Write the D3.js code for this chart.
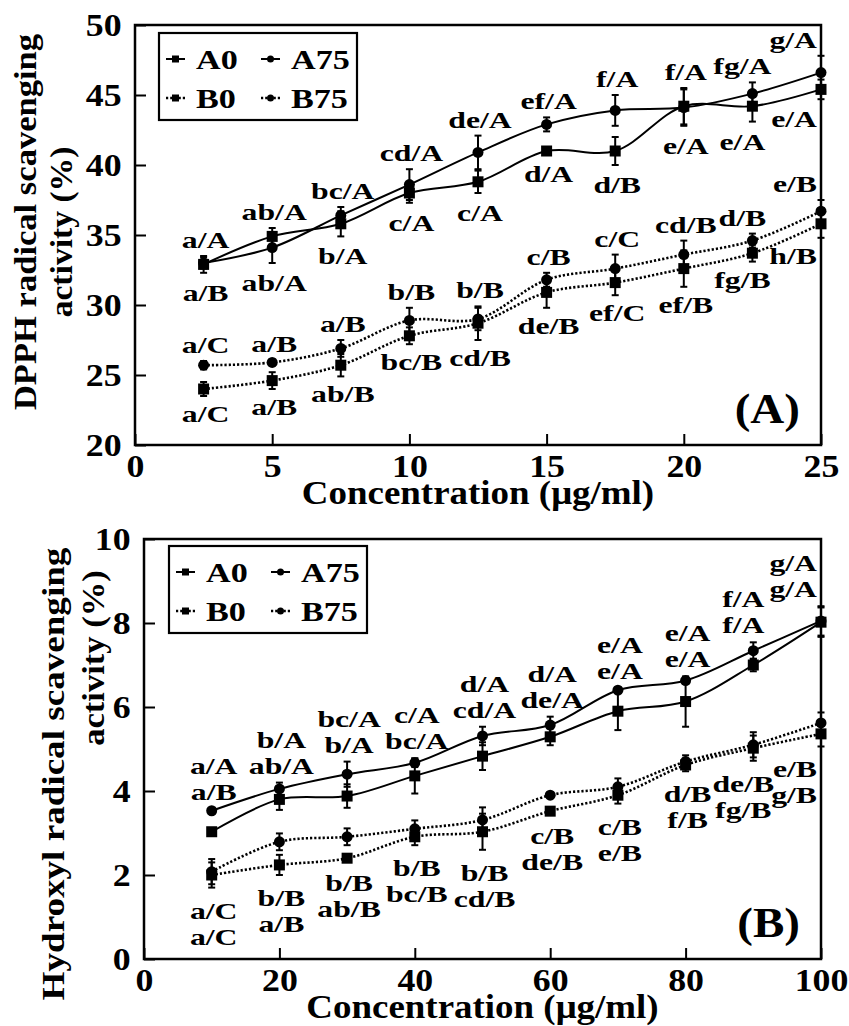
<!DOCTYPE html>
<meta charset="utf-8">
<style>
body { margin: 0; background: #fff; }
svg text { font-family: "Liberation Serif", "Times New Roman", serif; font-weight: bold; fill: #000; }
.frame { fill: none; stroke: #000; stroke-width: 2.5px; }
.axis path { display: none; }
.axis line { stroke: #000; stroke-width: 2px; }
.axis text { font-family: "Liberation Serif", serif; font-weight: bold; font-size: 32px; fill: #000; }
.line { fill: none; stroke: #000; stroke-width: 2px; }
.line.dot { stroke-dasharray: 2.2, 2; stroke-width: 2.6px; }
.err { stroke: #000; stroke-width: 2px; }
.legend .box { fill: #fff; stroke: #000; stroke-width: 2.2px; }
</style>
<body>
<script src="https://d3js.org/d3.v7.min.js"></script>
<script>
// ---- panel A : DPPH ----
var dpphConc = [2.5, 5, 7.5, 10, 12.5, 15, 17.5, 20, 22.5, 25];
var dpphA0 = [32.9, 34.9, 35.8, 38.0, 38.8, 41.0, 41.0, 44.2, 44.2, 45.4];
var dpphA0Err = [0.6, 0.6, 0.9, 0.7, 0.8, 0.2, 1.0, 1.3, 1.1, 0.7];
var dpphA75 = [33.0, 34.1, 36.4, 38.6, 40.9, 42.9, 43.9, 44.1, 45.1, 46.6];
var dpphA75Err = [0.4, 1.1, 0.6, 1.1, 1.2, 0.5, 1.1, 1.3, 0.8, 1.2];
var dpphB0 = [24.0, 24.6, 25.7, 27.8, 28.7, 30.9, 31.6, 32.6, 33.7, 35.8];
var dpphB0Err = [0.5, 0.6, 0.8, 0.6, 1.2, 1.1, 0.9, 1.3, 0.6, 1.0];
var dpphB75 = [25.7, 25.9, 26.9, 28.9, 29.0, 31.8, 32.6, 33.6, 34.6, 36.7];
var dpphB75Err = [0.3, 0.2, 0.6, 0.9, 0.8, 0.5, 1.0, 1.0, 0.5, 0.8];
var dpphLabA75 = ["a/A", "ab/A", "bc/A", "cd/A", "de/A", "ef/A", "f/A", "f/A", "fg/A", "g/A"];
var dpphLabA0 = ["a/B", "ab/A", "b/A", "c/A", "c/A", "d/A", "d/B", "e/A", "e/A", "e/A"];
var dpphLabB75 = ["a/C", "a/B", "a/B", "b/B", "b/B", "c/B", "c/C", "cd/B", "d/B", "e/B"];
var dpphLabB0 = ["a/C", "a/B", "ab/B", "bc/B", "cd/B", "de/B", "ef/C", "ef/B", "fg/B", "h/B"];
var dpphXTicks = [0, 5, 10, 15, 20, 25];
var dpphYTicks = [20, 25, 30, 35, 40, 45, 50];

// ---- panel B : hydroxyl ----
var hydConc = [10, 20, 30, 40, 50, 60, 70, 80, 90, 100];
var hydA0 = [3.03, 3.80, 3.88, 4.36, 4.83, 5.29, 5.90, 6.13, 7.00, 8.02];
var hydA0Err = [0.05, 0.25, 0.28, 0.42, 0.33, 0.20, 0.45, 0.60, 0.15, 0.35];
var hydA75 = [3.53, 4.05, 4.40, 4.67, 5.31, 5.57, 6.40, 6.63, 7.34, 8.05];
var hydA75Err = [0.05, 0.15, 0.30, 0.10, 0.22, 0.20, 0.05, 0.05, 0.20, 0.35];
var hydB0 = [2.00, 2.24, 2.40, 2.91, 3.03, 3.52, 3.90, 4.62, 5.02, 5.36];
var hydB0Err = [0.30, 0.24, 0.05, 0.20, 0.43, 0.05, 0.20, 0.15, 0.30, 0.30];
var hydB75 = [2.08, 2.79, 2.91, 3.10, 3.31, 3.90, 4.10, 4.70, 5.10, 5.62];
var hydB75Err = [0.30, 0.20, 0.20, 0.20, 0.30, 0.05, 0.20, 0.15, 0.30, 0.25];
var hydLabA75 = ["a/A", "b/A", "bc/A", "c/A", "d/A", "d/A", "e/A", "e/A", "f/A", "g/A"];
var hydLabA0 = ["a/B", "ab/A", "b/A", "bc/A", "cd/A", "de/A", "e/A", "e/A", "f/A", "g/A"];
var hydLabB75 = ["a/C", "b/B", "b/B", "b/B", "b/B", "c/B", "c/B", "d/B", "de/B", "e/B"];
var hydLabB0 = ["a/C", "a/B", "ab/B", "bc/B", "cd/B", "de/B", "e/B", "f/B", "fg/B", "g/B"];
var hydXTicks = [0, 20, 40, 60, 80, 100];
var hydYTicks = [0, 2, 4, 6, 8, 10];

var legendNames = ["A0", "A75", "B0", "B75"];

var svg = d3.select("body").append("svg")
    .attr("width", 849)
    .attr("height", 1026);

// text helper: horizontally stretched bold serif text
function addText(g, str, x, y, size, sx, anchor, rot) {
  return g.append("text")
      .attr("transform", "translate(" + x + "," + y + ")" + (rot ? " rotate(" + rot + ")" : "") + " scale(" + sx + ",1)")
      .attr("text-anchor", anchor || "middle")
      .style("font-family", "'Liberation Serif', serif")
      .style("font-size", size + "px")
      .text(str);
}

function marker(g, type, cx, cy, s) {
  if (type == "square") {
    g.append("rect").attr("x", cx - s / 2).attr("y", cy - s / 2)
        .attr("width", s).attr("height", s).attr("fill", "#000");
  } else {
    g.append("circle").attr("cx", cx).attr("cy", cy).attr("r", s / 2).attr("fill", "#000");
  }
}

function drawPanel(p) {
  var x = d3.scaleLinear().domain(p.xDomain).range([p.left, p.right]);
  var y = d3.scaleLinear().domain(p.yDomain).range([p.bottom, p.top]);
  var g = svg.append("g");

  // axes with inward ticks
  g.append("g")
      .attr("class", "axis")
      .attr("transform", "translate(0," + p.bottom + ")")
      .call(d3.axisBottom(x).tickValues(p.xTicks).tickSizeInner(-11).tickSizeOuter(0).tickPadding(9))
    .selectAll("text").attr("transform", "scale(1.12,1)");
  g.append("g")
      .attr("class", "axis")
      .attr("transform", "translate(" + p.left + ",0)")
      .call(d3.axisLeft(y).tickValues(p.yTicks).tickSizeInner(-11).tickSizeOuter(0).tickPadding(12))
    .selectAll("text").attr("transform", "scale(1.12,1)");

  g.append("rect")
      .attr("class", "frame")
      .attr("x", p.left).attr("y", p.top)
      .attr("width", p.right - p.left).attr("height", p.bottom - p.top);

  var line = d3.line()
      .x(function(d) { return x(d[0]); })
      .y(function(d) { return y(d[1]); })
      .curve(d3.curveCatmullRom);

  p.series.forEach(function(s) {
    var pts = p.conc.map(function(c, i) { return [c, s.values[i]]; });
    g.append("path")
        .datum(pts)
        .attr("class", s.dotted ? "line dot" : "line")
        .attr("d", line);
  });
  p.series.forEach(function(s) {
    p.conc.forEach(function(c, i) {
      var cx = x(c), y1 = y(s.values[i] - s.err[i]), y2 = y(s.values[i] + s.err[i]);
      g.append("line").attr("class", "err").attr("x1", cx).attr("x2", cx).attr("y1", y1).attr("y2", y2);
      g.append("line").attr("class", "err").attr("x1", cx - 3.5).attr("x2", cx + 3.5).attr("y1", y1).attr("y2", y1);
      g.append("line").attr("class", "err").attr("x1", cx - 3.5).attr("x2", cx + 3.5).attr("y1", y2).attr("y2", y2);
    });
  });
  p.series.forEach(function(s) {
    p.conc.forEach(function(c, i) {
      marker(g, s.marker, x(c), y(s.values[i]), 11);
    });
  });

  // significance letters
  var lab = g.append("g");
  var n = p.conc.length;
  p.conc.forEach(function(c, i) {
    var last = i == n - 1;
    var lx = last ? x(c) - 4 : x(c) + 2 - (i == n - 2 ? 12 : 0);
    var anchor = last ? "end" : "middle";
    p.labelGroups.forEach(function(lg) {
      var tops = lg.series.map(function(s) { return y(s.values[i] + s.err[i]); });
      var bots = lg.series.map(function(s) { return y(s.values[i] - s.err[i]); });
      var base;
      if (lg.above) {
        base = d3.min(tops) - lg.gap;
        for (var k = lg.texts.length - 1; k >= 0; k--) {
          addText(lab, lg.texts[k][i], lx, base, 23, 1.38, anchor);
          base -= 26;
        }
      } else {
        base = d3.max(bots) + lg.gap;
        for (var k = 0; k < lg.texts.length; k++) {
          addText(lab, lg.texts[k][i], lx, base, 23, 1.38, anchor);
          base += 26;
        }
      }
    });
  });

  // legend
  var lgd = g.append("g").attr("class", "legend");
  lgd.append("rect").attr("class", "box")
      .attr("x", p.legX).attr("y", p.legY).attr("width", 198).attr("height", 87);
  legendNames.forEach(function(name, i) {
    var s = p.series[i];
    var col = i % 2, row = Math.floor(i / 2);
    var lx = p.legX + 7 + col * 95, ly = p.legY + 26 + row * 39;
    lgd.append("line").attr("class", s.dotted ? "line dot" : "line")
        .attr("x1", lx).attr("x2", lx + 19).attr("y1", ly).attr("y2", ly);
    marker(lgd, s.marker, lx + 9.5, ly, 7);
    addText(lgd, name, lx + 30, ly + 10, 28, 1.22, "start");
  });

  // titles
  addText(g, "Concentration (\u03bcg/ml)", (p.left + p.right) / 2, p.bottom + 59, 33, 1.12);
  addText(g, p.yTitle1, p.yt1x, p.yt1y, 32, p.yt1s, "middle", -90);
  addText(g, "activity (%)", p.yt2x, p.yt2y, 32, p.yt2s, "middle", -90);
  addText(g, p.panelLabel, p.right - 21, p.bottom - 22, 42, 1.12, "end");
}

function mk(values, err, mark, dotted) {
  return {values: values, err: err, marker: mark, dotted: dotted};
}

var dA0 = mk(dpphA0, dpphA0Err, "square", false),
    dA75 = mk(dpphA75, dpphA75Err, "circle", false),
    dB0 = mk(dpphB0, dpphB0Err, "square", true),
    dB75 = mk(dpphB75, dpphB75Err, "circle", true);

drawPanel({
  left: 135, right: 821, top: 25, bottom: 445,
  xDomain: [0, 25], yDomain: [20, 50],
  xTicks: dpphXTicks, yTicks: dpphYTicks,
  conc: dpphConc,
  series: [dA0, dA75, dB0, dB75],
  labelGroups: [
    {series: [dA0, dA75], above: true, gap: 8, texts: [dpphLabA75]},
    {series: [dA0, dA75], above: false, gap: 28, texts: [dpphLabA0]},
    {series: [dB0, dB75], above: true, gap: 8, texts: [dpphLabB75]},
    {series: [dB0, dB75], above: false, gap: 26, texts: [dpphLabB0]}
  ],
  legX: 159, legY: 33,
  yTitle1: "DPPH radical scavenging",
  yt1x: 36, yt1y: 222, yt1s: 1.08,
  yt2x: 72, yt2y: 232, yt2s: 1.05,
  panelLabel: "(A)"
});

var hA0 = mk(hydA0, hydA0Err, "square", false),
    hA75 = mk(hydA75, hydA75Err, "circle", false),
    hB0 = mk(hydB0, hydB0Err, "square", true),
    hB75 = mk(hydB75, hydB75Err, "circle", true);

drawPanel({
  left: 144, right: 821, top: 539, bottom: 959,
  xDomain: [0, 100], yDomain: [0, 10],
  xTicks: hydXTicks, yTicks: hydYTicks,
  conc: hydConc,
  series: [hA0, hA75, hB0, hB75],
  labelGroups: [
    {series: [hA0, hA75], above: true, gap: 9, texts: [hydLabA75, hydLabA0]},
    {series: [hB0, hB75], above: false, gap: 31, texts: [hydLabB75, hydLabB0]}
  ],
  legX: 169, legY: 546,
  yTitle1: "Hydroxyl radical scavenging",
  yt1x: 64, yt1y: 774, yt1s: 1.16,
  yt2x: 104, yt2y: 658, yt2s: 1.08,
  panelLabel: "(B)"
});
</script>
</body>
